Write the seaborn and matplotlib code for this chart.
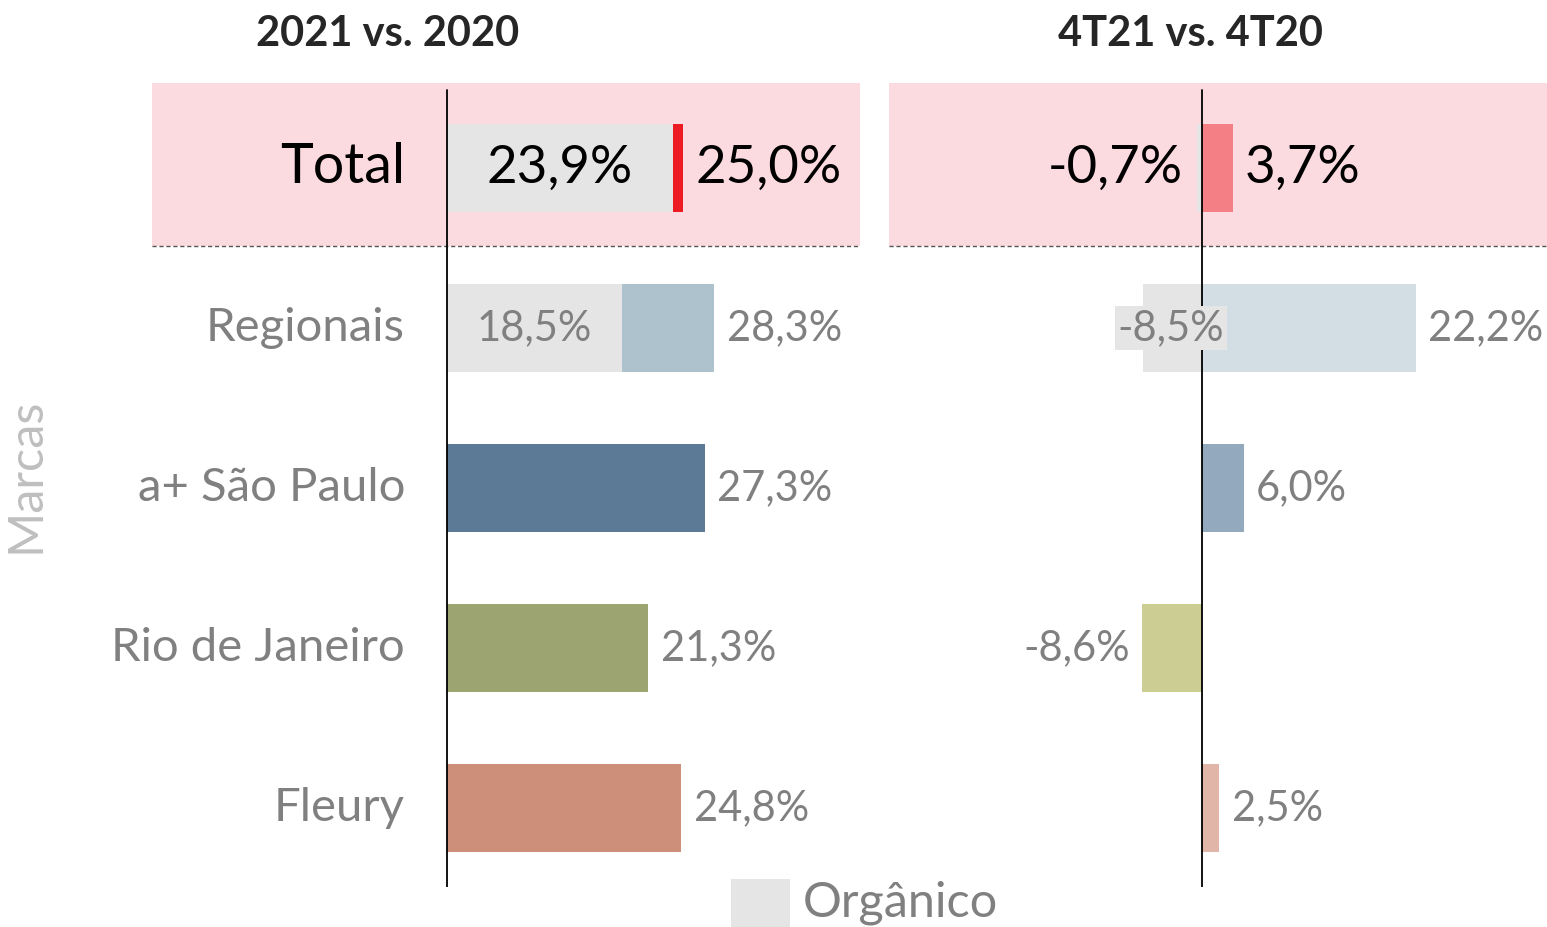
import matplotlib
matplotlib.use("Agg")
import matplotlib.pyplot as plt
from matplotlib.patches import Rectangle
import seaborn as sns
import pandas as pd

sns.set_theme(style="white")
plt.rcParams['font.family'] = ['Lato', 'DejaVu Sans']

# data
marcas = ["Total", "Regionais", "a+ São Paulo", "Rio de Janeiro", "Fleury"]
ano_total = [25.0, 28.3, 27.3, 21.3, 24.8]
ano_organico = [23.9, 18.5, None, None, None]
tri_total = [3.7, 22.2, 6.0, -8.6, 2.5]
tri_organico = [-0.7, -8.5, None, None, None]

cores_ano = ["#ED1C24", "#AEC2CE", "#5C7A96", "#9CA572", "#CD8E7A"]
cores_tri = ["#F47F84", "#D3DEE4", "#93A9BE", "#CBCD93", "#E1B5A7"]
cinza = "#E5E5E5"
rosa = "#FBDBDF"
texto_cinza = "#808080"

W, H = 1547, 927
fig = plt.figure(figsize=(W / 100, H / 100), dpi=100)

FS_TOTAL = 38
FS_VAL = 30
FS_CAT = 34


def fmt(v):
    return f"{v:.1f}%".replace(".", ",")


def axes_px(x0, x1, y0, y1):
    return fig.add_axes([x0 / W, (H - y1) / H, (x1 - x0) / W, (y1 - y0) / H])


def painel(ax, totais, organicos, cores, xlim, empilhado):
    # colored bars: total (left panel) or total minus organic (right panel)
    barras = []
    for t, o in zip(totais, organicos):
        if o is None or empilhado:
            barras.append(t)
        else:
            barras.append(round(t - o, 1))
    df = pd.DataFrame({"marca": marcas, "valor": barras})
    sns.barplot(data=df, x="valor", y="marca", hue="marca", order=marcas,
                palette=dict(zip(marcas, cores)), width=0.55, orient="h",
                saturation=1, legend=False, linewidth=0, ax=ax)
    org = pd.DataFrame({"marca": [m for m, o in zip(marcas, organicos) if o is not None],
                        "valor": [o for o in organicos if o is not None]})
    sns.barplot(data=org, x="valor", y="marca", order=marcas, color=cinza,
                width=0.55, orient="h", saturation=1, linewidth=0, ax=ax)
    ax.set_xlim(*xlim)
    ax.set_ylim(4.494, -0.531)
    ax.axhspan(-0.531, 0.4875, color=rosa, zorder=0, lw=0)
    ax.axhline(0.4875, color="#555555", lw=1, ls=(0, (3, 2)))
    ax.plot([0, 0], [-0.4875, 4.494], color="black", lw=1.3, zorder=5)
    ax.set_axis_off()


axL = axes_px(152, 860, 83, 887)
painel(axL, ano_total, ano_organico, cores_ano, (-31.25, 43.75), True)
axR = axes_px(889, 1547, 83, 887)
painel(axR, tri_total, tri_organico, cores_tri, (-45.0, 49.6), False)

# category labels
for i, m in enumerate(marcas):
    axL.text(-4.45, i, m, ha="right", va="center",
             fontsize=FS_TOTAL + 2 if i == 0 else FS_CAT,
             color="black" if i == 0 else texto_cinza)

# value labels, left panel
for i, (t, o) in enumerate(zip(ano_total, ano_organico)):
    cor = "black" if i == 0 else texto_cinza
    fs = FS_TOTAL if i == 0 else FS_VAL
    axL.annotate(fmt(t), (t, i), xytext=(9, 0), textcoords="offset points",
                 ha="left", va="center", fontsize=fs, color=cor)
    if o is not None:
        axL.text(o / 2, i, fmt(o), ha="center", va="center", fontsize=fs, color=cor)

# value labels, right panel
for i, (t, o) in enumerate(zip(tri_total, tri_organico)):
    cor = "black" if i == 0 else texto_cinza
    fs = FS_TOTAL if i == 0 else FS_VAL
    if o is None:
        xb = t
    else:
        xb = t - o
    axR.annotate(fmt(t), (xb, i), xytext=(9 if xb >= 0 else -9, 0),
                 textcoords="offset points", ha="left" if xb >= 0 else "right",
                 va="center", fontsize=fs, color=cor, zorder=6)
    if o is not None:
        if i == 0:
            axR.annotate(fmt(o), (o, i), xytext=(-10, 0), textcoords="offset points",
                         ha="right", va="center", fontsize=fs, color=cor, zorder=6)
        else:
            axR.text(o / 2 - 0.2, i, fmt(o), ha="center", va="center", fontsize=fs,
                     color=cor, zorder=6,
                     bbox=dict(facecolor=cinza, edgecolor="none", pad=2))

# titles
fig.text(388 / W, 1 - 34 / H, "2021 vs. 2020", ha="center", va="center",
         fontsize=30, fontweight="bold", color="#262626")
fig.text(1191 / W, 1 - 34 / H, "4T21 vs. 4T20", ha="center", va="center",
         fontsize=30, fontweight="bold", color="#262626")

# y axis title
fig.text(25 / W, 1 - 475 / H, "Marcas", rotation=90, ha="center", va="center",
         fontsize=35, color="#BFBFBF")

# legend
fig.patches.append(Rectangle((731 / W, 0), 59 / W, 48 / H, transform=fig.transFigure,
                             facecolor=cinza, edgecolor="none"))
fig.text(803 / W, 1 - 903 / H, "Orgânico", ha="left", va="center",
         fontsize=35, color=texto_cinza)

fig.savefig("out.png", dpi=100)
